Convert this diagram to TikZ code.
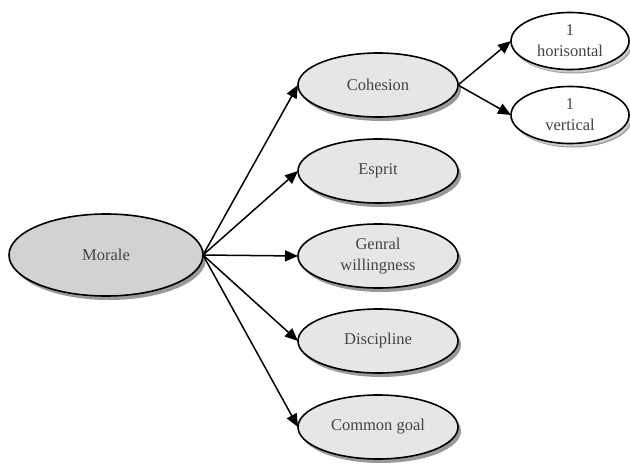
\documentclass[tikz,border=0pt]{standalone}
\usepackage{fontspec}
\setmainfont{Liberation Serif}
\usepackage{tikz}
\usetikzlibrary{arrows.meta,calc,positioning,shapes,shadows}
\definecolor{rootfill}{HTML}{D2D2D4}
\definecolor{subfill}{HTML}{E6E6E8}
\definecolor{txtgray}{HTML}{444444}
\tikzset{
  every node/.style = {outer sep=0, inner sep=0},
  arrow/.style = {-{Triangle[length=13pt, width=11pt]}, line width=1.5pt},
  bubble/.style = {ellipse, draw, line width=1.6pt, align=center,
    text=txtgray, font=\fontsize{16.5}{21}\selectfont,
    drop shadow={shadow xshift=3pt, shadow yshift=-4pt, fill=black!40, opacity=1}},
  root/.style = {bubble, fill=rootfill, minimum width=194pt, minimum height=82pt},
  sub/.style = {bubble, fill=subfill, minimum width=160pt, minimum height=64pt},
  leaf/.style = {bubble, fill=white, minimum width=118pt, minimum height=57pt,
    drop shadow={shadow xshift=2pt, shadow yshift=-3pt, fill=black!20, opacity=1}}
}

\begin{document}
\begin{tikzpicture}[x=1pt, y=-1pt]
    \useasboundingbox (0,0) rectangle (630,466);
    \node[root] (morale) at (106,255) {Morale};
    \node[sub] (coh) at (378,85) {Cohesion};
    \node[sub] (esp) at (378,171) {Esprit};
    \node[sub] (gen) at (378,256) {Genral\\willingness};
    \node[sub] (dis) at (378,341) {Discipline};
    \node[sub] (com) at (378,427) {Common goal};
    \node[leaf] (hor) at (570,41) {1\\horisontal};
    \node[leaf] (ver) at (570,115) {1\\vertical};
    \foreach \s in {coh,esp,gen,dis,com} {
      \draw[arrow] (morale.east) -- (\s.west);
    }
    \foreach \s in {hor,ver} {
      \draw[arrow] (coh.east) -- (\s.west);
    }
\end{tikzpicture}
\end{document}
